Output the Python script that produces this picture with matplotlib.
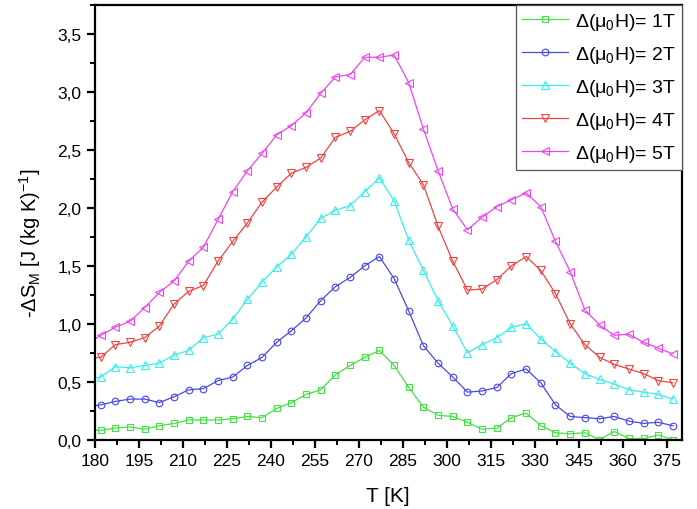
import numpy as np
import matplotlib
matplotlib.use("Agg")
import matplotlib.pyplot as plt
from matplotlib.ticker import MultipleLocator, FuncFormatter

plt.rcParams['font.family'] = ['Liberation Sans', 'DejaVu Sans']
plt.rcParams['mathtext.fontset'] = 'custom'
plt.rcParams['mathtext.rm'] = 'Liberation Sans'
plt.rcParams['mathtext.it'] = 'Liberation Sans'

# temperature points [K]
T = [177, 182, 187, 192, 197, 202, 207, 212, 217, 222, 227, 232, 237, 242,
     247, 252, 257, 262, 267, 272, 277, 282, 287, 292, 297, 302, 307, 312,
     317, 322, 327, 332, 337, 342, 347, 352, 357, 362, 367, 372, 377]

# -dS_M for each field change
s1T = [0.09, 0.08, 0.10, 0.11, 0.09, 0.12, 0.14, 0.17, 0.17, 0.17, 0.18, 0.20,
       0.19, 0.27, 0.32, 0.39, 0.43, 0.56, 0.64, 0.71, 0.77, 0.64, 0.45, 0.28,
       0.21, 0.20, 0.15, 0.09, 0.10, 0.19, 0.23, 0.12, 0.06, 0.05, 0.06, 0.00,
       0.07, 0.01, 0.01, 0.04, 0.00]
s2T = [0.28, 0.30, 0.33, 0.35, 0.35, 0.32, 0.37, 0.43, 0.44, 0.51, 0.54, 0.64,
       0.71, 0.84, 0.94, 1.05, 1.20, 1.32, 1.40, 1.50, 1.58, 1.39, 1.11, 0.81,
       0.66, 0.54, 0.41, 0.42, 0.45, 0.57, 0.61, 0.49, 0.30, 0.20, 0.19, 0.18,
       0.20, 0.16, 0.14, 0.15, 0.12]
s3T = [0.52, 0.54, 0.63, 0.62, 0.64, 0.66, 0.73, 0.77, 0.88, 0.91, 1.04, 1.21,
       1.36, 1.49, 1.60, 1.75, 1.91, 1.98, 2.02, 2.14, 2.26, 2.06, 1.72, 1.46,
       1.20, 0.98, 0.75, 0.82, 0.88, 0.97, 1.00, 0.87, 0.76, 0.66, 0.57, 0.52,
       0.48, 0.43, 0.41, 0.39, 0.35]
s4T = [0.70, 0.71, 0.82, 0.84, 0.88, 0.98, 1.17, 1.28, 1.33, 1.54, 1.71, 1.87,
       2.05, 2.18, 2.30, 2.35, 2.43, 2.61, 2.66, 2.76, 2.84, 2.64, 2.39, 2.20,
       1.84, 1.54, 1.29, 1.30, 1.38, 1.50, 1.58, 1.46, 1.26, 1.00, 0.82, 0.71,
       0.65, 0.61, 0.57, 0.51, 0.49]
s5T = [0.82, 0.90, 0.97, 1.02, 1.14, 1.27, 1.37, 1.54, 1.66, 1.90, 2.14, 2.32,
       2.47, 2.63, 2.71, 2.82, 2.99, 3.13, 3.15, 3.30, 3.30, 3.32, 3.08, 2.68,
       2.32, 1.99, 1.81, 1.92, 2.01, 2.07, 2.13, 2.01, 1.71, 1.45, 1.12, 0.99,
       0.90, 0.91, 0.84, 0.79, 0.74]

labels = [r'Δ(μ$_\mathregular{0}$H)= 1T', r'Δ(μ$_\mathregular{0}$H)= 2T',
          r'Δ(μ$_\mathregular{0}$H)= 3T', r'Δ(μ$_\mathregular{0}$H)= 4T',
          r'Δ(μ$_\mathregular{0}$H)= 5T']
series = [s1T, s2T, s3T, s4T, s5T]
colors = ['#45e045', '#4848e8', '#38eeee', '#f04444', '#f044f0']
markers = ['s', 'o', '^', 'v', '<']

fig = plt.figure(figsize=(6.97, 5.10), dpi=100)
ax = fig.add_axes([0.136, 0.136, 0.842, 0.852])

for s, c, m, lab in zip(series, colors, markers, labels):
    ms = 5.8 if m in ('^', 'v', '<') else 4.8
    ax.plot(T, s, color=c, lw=0.9, marker=m, ms=ms, mfc='none', mec=c,
            mew=0.8, label=lab)

ax.set_xlim(180, 380)
ax.set_ylim(0, 3.75)
ax.xaxis.set_major_locator(MultipleLocator(15))
ax.xaxis.set_minor_locator(MultipleLocator(7.5))
ax.yaxis.set_major_locator(MultipleLocator(0.5))
ax.yaxis.set_minor_locator(MultipleLocator(0.25))
ax.yaxis.set_major_formatter(FuncFormatter(lambda v, p: '{:.1f}'.format(v).replace('.', ',')))

for sp in ax.spines.values():
    sp.set_linewidth(1.6)
ax.tick_params(which='major', direction='out', length=6, width=1.6, labelsize=12.5)
ax.tick_params(which='minor', direction='out', length=3.5, width=1.4)

ax.set_xlabel('T [K]', fontsize=15, labelpad=13)
ax.set_ylabel(r'-ΔS$_\mathregular{M}$ [J (kg K)$^\mathregular{-1}$]', fontsize=14.5)
ax.yaxis.set_label_coords(-0.088, 0.455)

leg = ax.legend(loc='upper right', fontsize=14, numpoints=1, handlelength=2.4,
                fancybox=False, framealpha=1, edgecolor='#555555',
                borderaxespad=0.0, labelspacing=0.62, handletextpad=0.35,
                borderpad=0.3)
leg.get_frame().set_linewidth(0.9)

fig.savefig('out.png', dpi=100)
